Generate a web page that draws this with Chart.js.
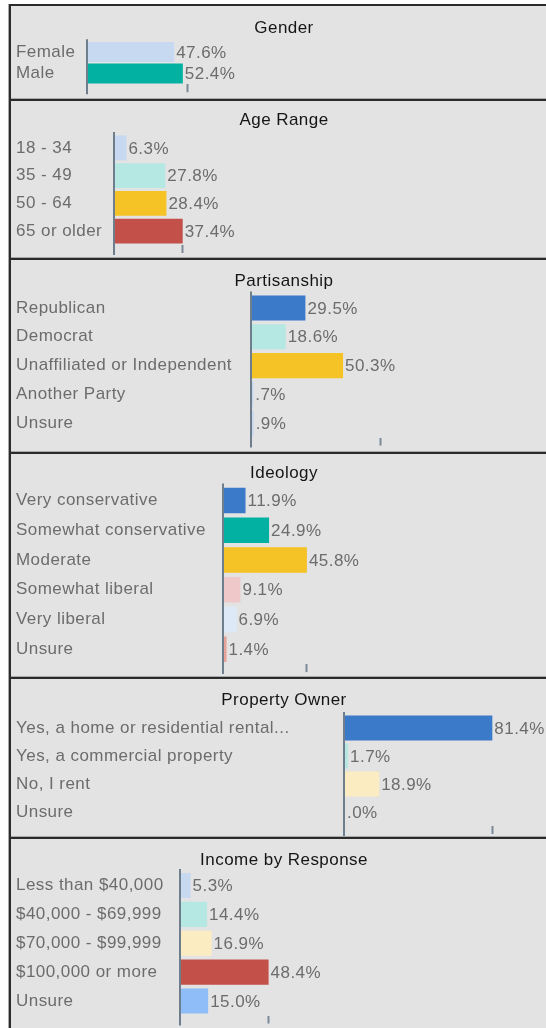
<!DOCTYPE html>
<html>
<head>
<meta charset="utf-8">
<script src="https://cdn.jsdelivr.net/npm/chart.js@4.4.1/dist/chart.umd.min.js"></script>
<style>
    html, body { margin: 0; padding: 0; background: #fff; }
    #board {
        position: absolute; left: 9px; top: 4px;
        width: 535px; height: 1024px;
        overflow: hidden;
        border-left: 2px solid #2b2b2b;
        box-shadow: -1px 0 0 #aaa;
        background: #e3e3e3;
    }
    .panel { position: relative; border-top: 2px solid #2b2b2b; box-shadow: 0 -1px 0 #a9a9a9; }
    .panel canvas { display: block; }
</style>
</head>
<body>
<div id="board"></div>
<script>
// Valores de cada bloco
const titles = ['Gender', 'Age Range', 'Partisanship', 'Ideology', 'Property Owner', 'Income by Response'];

const genderLabels = ['Female', 'Male'];
const genderValues = [47.6, 52.4];

const ageLabels = ['18 - 34', '35 - 49', '50 - 64', '65 or older'];
const ageValues = [6.3, 27.8, 28.4, 37.4];

const partyLabels = ['Republican', 'Democrat', 'Unaffiliated or Independent', 'Another Party', 'Unsure'];
const partyValues = [29.5, 18.6, 50.3, 0.7, 0.9];

const ideologyLabels = ['Very conservative', 'Somewhat conservative', 'Moderate', 'Somewhat liberal', 'Very liberal', 'Unsure'];
const ideologyValues = [11.9, 24.9, 45.8, 9.1, 6.9, 1.4];

const propertyLabels = ['Yes, a home or residential rental...', 'Yes, a commercial property', 'No, I rent', 'Unsure'];
const propertyValues = [81.4, 1.7, 18.9, 0.0];

const incomeLabels = ['Less than $40,000', '$40,000 - $69,999', '$70,000 - $99,999', '$100,000 or more', 'Unsure'];
const incomeValues = [5.3, 14.4, 16.9, 48.4, 15.0];

// posição da marquinha do eixo x em cada bloco
const axisTicks = [55, 37.4, 71, 45.8, 81.4, 48.4];

// cores
const lightBlue = '#c6d9f1', teal = '#03b1a2', aqua = '#b5e8e3', gold = '#f5c325',
      red = '#c4504a', blue = '#3b79c9', pink = '#efc9c9', paleBlue = '#dde9f7',
      salmon = '#e8a39a', cream = '#fcecc2', skyBlue = '#8fbdf7';

const blocks = [
    { labels: genderLabels,   values: genderValues,   colors: [lightBlue, teal] },
    { labels: ageLabels,      values: ageValues,      colors: [lightBlue, aqua, gold, red] },
    { labels: partyLabels,    values: partyValues,    colors: [blue, aqua, gold, lightBlue, lightBlue] },
    { labels: ideologyLabels, values: ideologyValues, colors: [blue, teal, gold, pink, paleBlue, salmon] },
    { labels: propertyLabels, values: propertyValues, colors: [blue, aqua, cream, lightBlue] },
    { labels: incomeLabels,   values: incomeValues,   colors: [lightBlue, aqua, cream, red, skyBlue] }
];

// layout de cada bloco
const panelHeights = [95, 159, 194, 225, 160, 191];
const axisWidths   = [72, 99, 236, 208, 329, 165];
const titleTop     = [11.8, 8.8, 10.8, 8.8, 10.8, 10.8];
const titleBottom  = [3, 3.8, 2.4, 2.4, 3.8, 0.8];
const padBottom    = [6.75, 5, 6.4, 4.9, 3, 4.5];
const barPct       = [0.93, 0.9, 0.87, 0.86, 0.9, 0.87];

const CANVAS_W = 546;
const PX_PER_PCT = 1.81;
const FONT = '"Liberation Sans", Arial, sans-serif';
const TEXT_GRAY = '#6c6c6c';
const LETTER_SPACING = '0.45px';

Chart.defaults.font.family = FONT;
Chart.defaults.font.size = 17;

function pct(v) {
    return v.toFixed(1).replace(/^0\./, '.') + '%';
}

// espaçamento entre letras um pouco mais largo em todo o texto
const textSpacing = {
    id: 'textSpacing',
    beforeDraw(chart) {
        chart.ctx.letterSpacing = LETTER_SPACING;
    }
};

// texto do valor ao lado de cada barra
const valueLabels = {
    id: 'valueLabels',
    afterDatasetsDraw(chart) {
        const ctx = chart.ctx;
        const data = chart.data.datasets[0].data;
        ctx.save();
        ctx.font = '17px ' + FONT;
        ctx.fillStyle = TEXT_GRAY;
        ctx.textBaseline = 'middle';
        chart.getDatasetMeta(0).data.forEach((bar, i) => {
            ctx.fillText(pct(data[i]), bar.x + 2, bar.y + 1);
        });
        ctx.restore();
    }
};

// linha vertical do eixo, descendo até a marquinha
const axisLine = {
    id: 'axisLine',
    afterDraw(chart) {
        const ctx = chart.ctx;
        const area = chart.chartArea;
        const x0 = chart.scales.x.getPixelForValue(0) - 1;
        ctx.save();
        ctx.strokeStyle = '#6f7e8d';
        ctx.lineWidth = 2;
        ctx.beginPath();
        ctx.moveTo(x0, area.top - 2);
        ctx.lineTo(x0, area.bottom + 10);
        ctx.stroke();
        ctx.restore();
    }
};

const board = document.getElementById('board');

blocks.forEach((b, i) => {
    const panel = document.createElement('div');
    panel.className = 'panel';
    panel.style.height = (panelHeights[i] - 2) + 'px';
    const canvas = document.createElement('canvas');
    canvas.width = CANVAS_W;
    canvas.height = panelHeights[i] - 2;
    canvas.style.width = CANVAS_W + 'px';
    canvas.style.height = (panelHeights[i] - 2) + 'px';
    panel.appendChild(canvas);
    board.appendChild(panel);

    const tickValue = axisTicks[i];
    const xMax = (CANVAS_W - 10 - axisWidths[i]) / PX_PER_PCT;

    try {
        new Chart(canvas, {
            type: 'bar',
            data: {
                labels: b.labels,
                datasets: [{
                    data: b.values,
                    backgroundColor: b.colors,
                    borderWidth: 0,
                    barPercentage: barPct[i],
                    categoryPercentage: 1
                }]
            },
            options: {
                indexAxis: 'y',
                responsive: false,
                animation: false,
                devicePixelRatio: 1,
                layout: { padding: { left: 5, right: 5, top: 0, bottom: padBottom[i] } },
                plugins: {
                    legend: { display: false },
                    tooltip: { enabled: false },
                    title: {
                        display: true,
                        text: titles[i],
                        color: '#151515',
                        font: { size: 17, weight: 'normal' },
                        padding: { top: titleTop[i], bottom: titleBottom[i] }
                    }
                },
                scales: {
                    x: {
                        min: 0,
                        max: xMax,
                        afterBuildTicks: s => { s.ticks = [{ value: tickValue }]; },
                        border: { display: false },
                        grid: {
                            drawOnChartArea: false,
                            drawTicks: true,
                            tickLength: 8,
                            tickWidth: 2,
                            tickColor: '#7c8997'
                        },
                        ticks: { display: false }
                    },
                    y: {
                        afterFit: s => { s.width = axisWidths[i]; },
                        border: { display: false },
                        grid: { display: false },
                        ticks: {
                            crossAlign: 'far',
                            color: TEXT_GRAY,
                            font: { size: 17 },
                            padding: 0,
                            autoSkip: false
                        }
                    }
                }
            },
            plugins: [textSpacing, valueLabels, axisLine]
        });
    } catch (error) {
        console.error('Erro no gráfico ' + titles[i] + ':', error);
    }
});
</script>
</body>
</html>
